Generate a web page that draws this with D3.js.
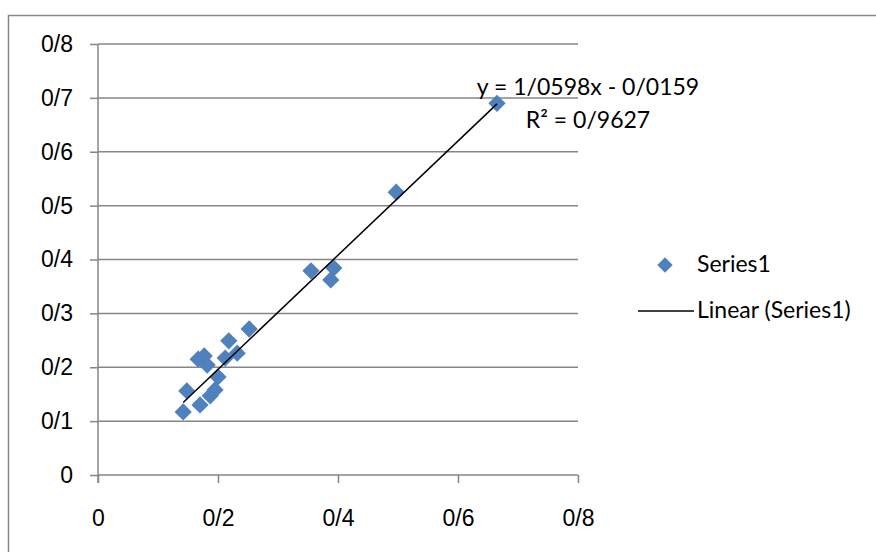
<!DOCTYPE html>
<html>
<head>
  <meta charset="UTF-8">
  <style>
    body { margin: 0; padding: 0; background: #fff; }
    svg { display: block; font-family: Lato, "Open Sans", sans-serif; }
    .tick text { font-size: 23px; fill: #000; }
  </style>
</head>
<body>
<svg></svg>
<script src="https://d3js.org/d3.v7.min.js"></script>
<script>
// data
let xs = [0.142, 0.148, 0.170, 0.187, 0.195, 0.200, 0.167, 0.177, 0.182, 0.212, 0.218, 0.232, 0.252, 0.355, 0.393, 0.388, 0.497, 0.665];
let ys = [0.117, 0.156, 0.130, 0.147, 0.158, 0.182, 0.215, 0.221, 0.204, 0.217, 0.249, 0.226, 0.271, 0.379, 0.384, 0.362, 0.525, 0.690];
let ticks = [0, 0.1, 0.2, 0.3, 0.4, 0.5, 0.6, 0.7, 0.8];
let xTicks = [0, 0.2, 0.4, 0.6, 0.8];
let slope = 1.0598, intercept = -0.0159;
let eqText = "y = 1/0598x - 0/0159";
let r2Text = "R² = 0/9627";
let seriesName = "Series1";
let trendName = "Linear (Series1)";

let width = 876, height = 552;
let svg = d3.select("svg").attr("width", width).attr("height", height);

let x = d3.scaleLinear().domain([0, 0.8]).range([98, 578]);
let y = d3.scaleLinear().domain([0, 0.8]).range([475, 44]);

// "/" is the decimal separator
let fmt = d => d === 0 ? "0" : d3.format(".1f")(d).replace(".", "/");

let grey = "#868686";

// chart border
svg.append("rect")
    .attr("x", 8.5).attr("y", 15.5)
    .attr("width", 900).attr("height", 600)
    .attr("fill", "none").attr("stroke", grey).attr("stroke-width", 1.5);

// gridlines
svg.append("g")
    .selectAll("line")
    .data(ticks.slice(1))
    .enter()
    .append("line")
    .attr("x1", x(0)).attr("x2", x(0.8))
    .attr("y1", d => y(d)).attr("y2", d => y(d))
    .attr("stroke", grey).attr("stroke-width", 1.5);

// axes
let yAxis = svg.append("g")
    .attr("transform", `translate(${x(0)},0)`)
    .call(d3.axisLeft(y).tickValues(ticks).tickFormat(fmt).tickSize(8).tickPadding(17));
let xAxis = svg.append("g")
    .attr("transform", `translate(0,${y(0)})`)
    .call(d3.axisBottom(x).tickValues(xTicks).tickFormat(fmt).tickSize(8).tickPadding(0));

[yAxis, xAxis].forEach(a => {
    a.select(".domain").attr("stroke", grey).attr("stroke-width", 1.5);
    a.selectAll(".tick line").attr("stroke", grey).attr("stroke-width", 1.5);
});
yAxis.select(".domain").attr("d", `M0,${y(0.8)}V${y(0) + 8}`);
xAxis.select(".domain").attr("d", `M${x(0)},0H${x(0.8)}`);
xAxis.selectAll(".tick text").attr("y", 51).attr("dy", null);

// points
let diamond = d3.symbol().type(d3.symbolDiamond2).size(190);
svg.append("g")
    .selectAll("path")
    .data(xs.map((d, i) => [d, ys[i]]))
    .enter()
    .append("path")
    .attr("d", diamond)
    .attr("transform", d => `translate(${x(d[0])},${y(d[1])})`)
    .attr("fill", "#4F81BD");

// trendline
let x0 = d3.min(xs), x1 = d3.max(xs);
svg.append("line")
    .attr("x1", x(x0)).attr("y1", y(slope * x0 + intercept))
    .attr("x2", x(x1)).attr("y2", y(slope * x1 + intercept))
    .attr("stroke", "#000").attr("stroke-width", 1.5);

// equation label
let eq = svg.append("text")
    .attr("text-anchor", "middle")
    .attr("font-size", 23);
eq.append("tspan").attr("x", 588).attr("y", 95).text(eqText);
eq.append("tspan").attr("x", 588).attr("y", 128).text(r2Text);

// legend
svg.append("path")
    .attr("d", d3.symbol().type(d3.symbolDiamond2).size(150))
    .attr("transform", "translate(665,265)")
    .attr("fill", "#4F81BD");
svg.append("text")
    .attr("x", 697).attr("y", 272)
    .attr("font-size", 23)
    .text(seriesName);
svg.append("line")
    .attr("x1", 638).attr("x2", 694)
    .attr("y1", 311).attr("y2", 311)
    .attr("stroke", "#000").attr("stroke-width", 1.5);
svg.append("text")
    .attr("x", 697).attr("y", 318)
    .attr("font-size", 23)
    .text(trendName);
</script>
</body>
</html>
